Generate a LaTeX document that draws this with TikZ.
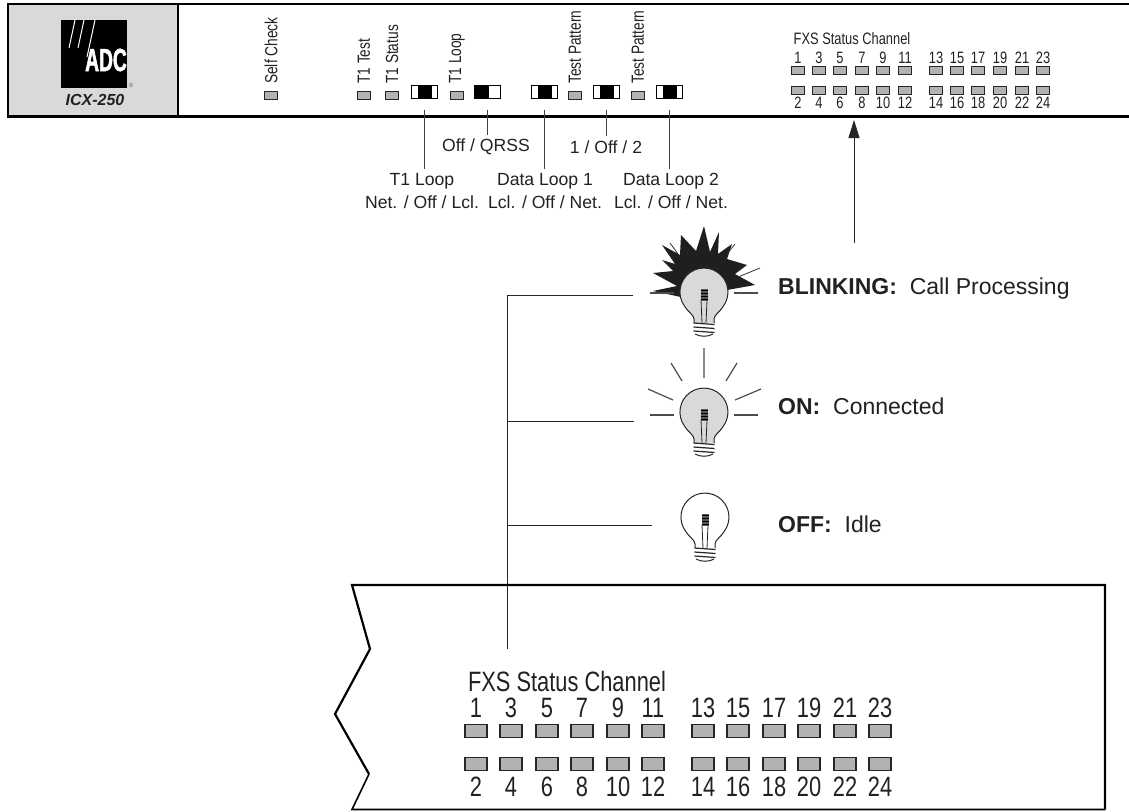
\documentclass[tikz,border=0pt]{standalone}
\usepackage{fontspec}
\setmainfont{Liberation Sans}
\newfontfamily\narrowfont[FakeStretch=0.78]{Liberation Sans}
\newfontface\logofont{Liberation Sans Bold}[FakeStretch=0.6,FakeBold=1.5]
\usetikzlibrary{arrows.meta}
\definecolor{ledgray}{gray}{0.70}
\definecolor{panelgray}{gray}{0.85}
\definecolor{inkgray}{gray}{0.13}
\tikzset{
    panelline/.style={line width=2.4pt, black},
    leader/.style={line width=1.1pt, black!75},
    tree/.style={line width=1pt, black!85},
    smallled/.style={draw=black!85, line width=1pt, fill=ledgray, minimum width=13pt, minimum height=8pt, inner sep=0pt},
    bigled/.style={draw=black!85, line width=1.1pt, fill=ledgray, minimum width=22pt, minimum height=13pt, inner sep=0pt},
    toggle/.style={draw=black, line width=1pt, fill=white, minimum width=26pt, minimum height=13pt, inner sep=0pt,
        path picture={\fill[black] ([xshift=#1-7pt, yshift=-8pt]path picture bounding box.center) rectangle ++(14,-16);}},
    rotlabel/.style={rotate=90, anchor=west, inner sep=0pt, text=inkgray, font=\narrowfont\fontsize{17.6}{16}\selectfont},
    swlabel/.style={inner sep=0pt, text=inkgray, font=\fontsize{17.6}{18}\selectfont},
    statelabel/.style={anchor=west, inner sep=0pt, text=inkgray, font=\fontsize{23}{24}\selectfont},
    smallnum/.style={inner sep=0pt, text=inkgray, font=\narrowfont\fontsize{16.5}{16}\selectfont},
    bignum/.style={inner sep=0pt, text=inkgray, font=\narrowfont\fontsize{28}{28}\selectfont},
    ray/.style={line width=1.2pt, black!70},
    pics/lamp/.style={code={
        \draw[line width=1pt, black!85, fill=#1] (-10,31) -- (-10,27) .. controls (-10,23) and (-16,20) .. (-19.6,14)
            arc[start angle=144.5, end angle=395.5, radius=24]
            .. controls (16,20) and (10,23) .. (10,27) -- (10,31);
        \draw[line width=0.8pt, black!85] (-3,8) -- (-2,31) (3,8) -- (2,31);
        \fill[black!65] (-3.5,-3) rectangle (3.5,9);
        \foreach \t in {-2,1,...,7} {
            \draw[line width=0.6pt, black] (-3.5,\t) -- (3.5,\t);
        }
        \foreach \t in {31,35,39} {
            \draw[line width=1.2pt, black!85] (-10.5,\t) -- (10.5,\t+1.5);
        }
        \draw[line width=1pt, black!85] (-9,42) .. controls (-4,45) and (4,45) .. (9,42);
    }}
}
\begin{document}
\begin{tikzpicture}[x=1pt, y=-1pt, >=Triangle]
    \useasboundingbox (0,0) rectangle (1129,811);

    \fill[panelgray] (8,4) rectangle (178,116.5);
    \draw[panelline] (1129,4) -- (8,4) -- (8,116.5) -- (1129,116.5);
    \draw[panelline] (178,4) -- (178,116.5);

    \node[fill=black, minimum width=66pt, minimum height=68pt, inner sep=0pt] (logo) at (94,54) {};
    \draw[white, line width=1pt] (75,20) -- (69,48);
    \draw[white, line width=1pt] (84,20) -- (78,48);
    \draw[white, line width=1pt] (95,20) -- (87,57);
    \node[inner sep=0pt, text=white, font=\logofont\fontsize{32}{32}\selectfont] (logotext) at (106,60) {ADC};
    \node[inner sep=0pt, text=black!60, font=\fontsize{6}{6}\selectfont] (regmark) at (131,85) {®};
    \node[inner sep=0pt, text=inkgray, font=\bfseries\itshape\fontsize{16}{16}\selectfont] (model) at (95,100) {ICX-250};

    \foreach \n/\x/\t in {selfcheck/271/Self Check, tonetest/364/T1 Test, tonestatus/392/T1 Status, toneloop/457/T1 Loop, patterna/575/Test Pattern, patternb/638/Test Pattern} {
        \node[smallled] (\n) at (\x,95) {};
        \node[rotlabel] (\n text) at (\x,84) {\t};
    }

    \node[toggle=0] (swa) at (424.5,91.5) {};
    \node[toggle=-6] (swb) at (487.5,91.5) {};
    \node[toggle=0] (swc) at (544.5,91.5) {};
    \node[toggle=0] (swd) at (606.5,91.5) {};
    \node[toggle=0] (swe) at (669.5,91.5) {};

    \node[swlabel] (offqrss) at (486,147) {Off / QRSS};
    \node[swlabel] (oneoff) at (606,147) {1 / Off / 2};
    \node[swlabel] (tloop) at (422,181) {T1 Loop};
    \node[swlabel] (tloopset) at (422,202) {Net. / Off / Lcl.};
    \node[swlabel] (dloopa) at (545,181) {Data Loop 1};
    \node[swlabel] (dloopaset) at (545,202) {Lcl. / Off / Net.};
    \node[swlabel] (dloopb) at (671,181) {Data Loop 2};
    \node[swlabel] (dloopbset) at (671,202) {Lcl. / Off / Net.};

    \draw[leader, shorten <=11pt, shorten >=4pt] (swa.south) -- (swa.south |- tloop.north);
    \draw[leader, shorten <=11pt, shorten >=4pt] (swb.south) -- (swb.south |- offqrss.north);
    \draw[leader, shorten <=11pt, shorten >=4pt] (swc.south) -- (swc.south |- dloopa.north);
    \draw[leader, shorten <=11pt, shorten >=4pt] (swd.south) -- (swd.south |- oneoff.north);
    \draw[leader, shorten <=11pt, shorten >=4pt] (swe.south) -- (swe.south |- dloopb.north);

    \node[inner sep=0pt, text=inkgray, font=\narrowfont\fontsize{16.5}{16}\selectfont] (fxstitle) at (852,39) {FXS Status Channel};
    \foreach \x/\a/\b in {798/1/2, 819/3/4, 840/5/6, 862/7/8, 883/9/10, 905/11/12, 936/13/14, 957/15/16, 978/17/18, 1000/19/20, 1022/21/22, 1043/23/24} {
        \node[smallled] (led\a) at (\x,70.5) {};
        \node[smallled] (led\b) at (\x,90) {};
        \node[smallnum] (num\a) at (\x,57.5) {\a};
        \node[smallnum] (num\b) at (\x,103) {\b};
    }

    \coordinate (arrowfoot) at (854,243);
    \coordinate (arrowhead) at (854,120);
    \draw[->, >={Triangle[length=18pt, width=11pt]}, line width=1pt, black!85] (arrowfoot) -- (arrowhead);

    \begin{scope}[shift={(704,292)}]
        \fill[black!88] (-51,-1) -- (-27,-6) -- (-51,-19) -- (-31,-21) -- (-42,-32) -- (-29,-28) -- (-42,-47)
            -- (-24,-37) -- (-23,-57) -- (-8,-41) -- (0,-66) -- (6,-40) -- (15,-60) -- (14,-38) -- (28,-48)
            -- (23,-33) -- (43,-27) -- (31,-18) -- (51,-7) -- (23,-2) -- (0,10) -- cycle;
        \draw[line width=0.8pt, black!80] (-34,-49) -- (-26,-38) (31,-48) -- (23,-38) (56,-24) -- (34,-15);
        \draw[ray] (-54,1) -- (-30,1) (30,1) -- (54,1);
        \pic {lamp=panelgray};
    \end{scope}

    \begin{scope}[shift={(704,412)}]
        \draw[ray] (0,-64) -- (0,-34) (-33,-49) -- (-22,-31) (33,-49) -- (22,-31);
        \draw[ray] (-56,-23) -- (-31,-12) (57,-23) -- (31,-12);
        \draw[ray] (-54,3) -- (-30,3) (30,3) -- (54,3);
        \pic {lamp=panelgray};
    \end{scope}

    \begin{scope}[shift={(705,517)}]
        \pic {lamp=white};
    \end{scope}

    \node[statelabel] (stateblink) at (778,289) {\textbf{BLINKING:}\; Call Processing};
    \node[statelabel] (stateon) at (778,406) {\textbf{ON:}\; Connected};
    \node[statelabel] (stateoff) at (778,524) {\textbf{OFF:}\; Idle};

    \coordinate (treetop) at (507,295);
    \coordinate (treefoot) at (507,649);
    \coordinate (tapa) at (633,295);
    \coordinate (tapb) at (634,421);
    \coordinate (tapc) at (652,525);
    \draw[tree] (tapa) -- (treetop) -- (treefoot);
    \draw[tree] (treetop |- tapb) -- (tapb);
    \draw[tree] (treetop |- tapc) -- (tapc);

    \draw[line width=2.2pt] (369,774) -- (335,714) -- (370,649) -- (352,585) -- (1105,585) -- (1105,809.5);
    \draw[line width=1.6pt] (369,774) -- (352,809.5) -- (1105,809.5);

    \node[inner sep=0pt, text=inkgray, font=\narrowfont\fontsize{28}{28}\selectfont] (fxsbig) at (567,681) {FXS Status Channel};
    \foreach \x/\a/\b in {476/1/2, 511/3/4, 547/5/6, 582/7/8, 618/9/10, 653/11/12, 703/13/14, 738/15/16, 774/17/18, 809/19/20, 845/21/22, 880/23/24} {
        \node[bigled] (big\a) at (\x,731) {};
        \node[bigled] (big\b) at (\x,764) {};
        \node[bignum] (bignum\a) at (\x,708) {\a};
        \node[bignum] (bignum\b) at (\x,787) {\b};
    }
\end{tikzpicture}
\end{document}
